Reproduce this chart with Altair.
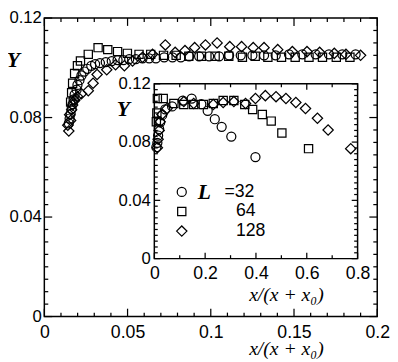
import altair as alt
import pandas as pd

# ---------------- data ----------------
series = ["32", "64", "128"]
shapes = ["circle", "square", "diamond"]
marker_area = [85, 70, 110]

# main panel
main_x_32 = [0.0147, 0.0152, 0.0158, 0.0164, 0.0170, 0.0176, 0.0182, 0.0194, 0.0199, 0.0211,
             0.0223, 0.0240, 0.0258, 0.0282, 0.0305, 0.0334, 0.0369, 0.0405, 0.0440, 0.0475,
             0.0510, 0.0550, 0.0590, 0.0630, 0.0670, 0.0720, 0.0770, 0.0820, 0.0870, 0.0930,
             0.0990, 0.1050, 0.1110, 0.1180, 0.1250, 0.1320, 0.1390, 0.1470, 0.1550, 0.1630,
             0.1710, 0.1790, 0.1870]
main_y_32 = [0.0777, 0.0796, 0.0815, 0.0835, 0.0854, 0.0873, 0.0892, 0.0912, 0.0931, 0.0950,
             0.0969, 0.0985, 0.0996, 0.1008, 0.1015, 0.1019, 0.1023, 0.1027, 0.1031, 0.1031,
             0.1035, 0.1035, 0.1038, 0.1038, 0.1038, 0.1042, 0.1042, 0.1042, 0.1046, 0.1046,
             0.1046, 0.1046, 0.1050, 0.1050, 0.1050, 0.1050, 0.1050, 0.1054, 0.1054, 0.1054,
             0.1054, 0.1054, 0.1054]

main_x_64 = [0.0158, 0.0164, 0.0170, 0.0182, 0.0199, 0.0217, 0.0264, 0.0323, 0.0381, 0.0440,
             0.0499, 0.0569, 0.0639, 0.0716, 0.0792, 0.0868, 0.0944, 0.1026, 0.1108, 0.1190,
             0.1267, 0.1343, 0.1425, 0.1507, 0.1590, 0.1671, 0.1754, 0.1836]
main_y_64 = [0.0862, 0.0900, 0.0938, 0.0977, 0.1008, 0.1027, 0.1054, 0.1081, 0.1073, 0.1065,
             0.1058, 0.1054, 0.1054, 0.1050, 0.1050, 0.1046, 0.1046, 0.1046, 0.1046, 0.1042,
             0.1046, 0.1042, 0.1042, 0.1042, 0.1042, 0.1042, 0.1042, 0.1042]

main_x_128 = [0.0147, 0.0141, 0.0158, 0.0152, 0.0164, 0.0170, 0.0182, 0.0199, 0.0223, 0.0264,
              0.0293, 0.0317, 0.0375, 0.0428, 0.0481, 0.0530, 0.0590, 0.0650, 0.0727, 0.0786,
              0.0845, 0.0903, 0.0968, 0.1038, 0.1114, 0.1185, 0.1255, 0.1320, 0.1402, 0.1490,
              0.1578, 0.1654, 0.1742, 0.1812, 0.1900]
main_y_128 = [0.0746, 0.0769, 0.0788, 0.0811, 0.0831, 0.0850, 0.0869, 0.0885, 0.0896, 0.0908,
              0.0938, 0.0973, 0.0992, 0.1012, 0.1008, 0.1027, 0.1042, 0.1054, 0.1092, 0.1062,
              0.1069, 0.1081, 0.1092, 0.1100, 0.1085, 0.1085, 0.1081, 0.1081, 0.1073, 0.1065,
              0.1065, 0.1062, 0.1058, 0.1054, 0.1050]

# inset panel
inset_x_32 = [0.008, 0.012, 0.015, 0.019, 0.023, 0.031, 0.043, 0.070, 0.112, 0.147,
              0.185, 0.210, 0.238, 0.265, 0.303, 0.398]
inset_y_32 = [0.0765, 0.0795, 0.0845, 0.0890, 0.0935, 0.0985, 0.1025, 0.1045, 0.1085, 0.1099,
              0.1060, 0.1015, 0.0957, 0.0905, 0.0838, 0.0697]

inset_x_64 = [0.008, 0.010, 0.012, 0.035, 0.077, 0.116, 0.155, 0.193, 0.232, 0.271,
              0.313, 0.356, 0.387, 0.425, 0.460, 0.502, 0.607]
inset_y_64 = [0.0940, 0.1000, 0.1099, 0.1099, 0.1065, 0.1058, 0.1058, 0.1058, 0.1065, 0.1085,
              0.1085, 0.1058, 0.1024, 0.0990, 0.0944, 0.0863, 0.0755]

inset_x_128 = [0.012, 0.015, 0.019, 0.023, 0.030, 0.050, 0.116, 0.155, 0.232, 0.271,
               0.313, 0.359, 0.398, 0.437, 0.479, 0.518, 0.557, 0.595, 0.642, 0.684, 0.773]
inset_y_128 = [0.0762, 0.0820, 0.0880, 0.0940, 0.0990, 0.1030, 0.1078, 0.1065, 0.1058, 0.1072,
               0.1078, 0.1065, 0.1099, 0.1119, 0.1112, 0.1099, 0.1072, 0.1031, 0.0964, 0.0883,
               0.0755]

# axis ticks
main_x_major = [0, 0.05, 0.1, 0.15, 0.2]
main_x_minor = [0.01, 0.02, 0.03, 0.04, 0.06, 0.07, 0.08, 0.09, 0.11, 0.12, 0.13, 0.14,
                0.16, 0.17, 0.18, 0.19]
main_y_major = [0, 0.04, 0.08, 0.12]
main_y_minor = [0.005, 0.01, 0.015, 0.02, 0.025, 0.03, 0.035, 0.045, 0.05, 0.055, 0.06,
                0.065, 0.07, 0.075, 0.085, 0.09, 0.095, 0.1, 0.105, 0.11, 0.115]
inset_x_major = [0, 0.2, 0.4, 0.6, 0.8]
inset_x_minor = [0.1, 0.3, 0.5, 0.7]
inset_y_major = [0, 0.04, 0.08, 0.12]
inset_y_minor = [0.004, 0.008, 0.012, 0.016, 0.02, 0.024, 0.028, 0.032, 0.036, 0.044, 0.048,
                 0.052, 0.056, 0.06, 0.064, 0.068, 0.072, 0.076, 0.084, 0.088, 0.092, 0.096,
                 0.1, 0.104, 0.108, 0.112, 0.116]

legend_text = ["=32", "64", "128"]

# ---------------- layout ----------------
W, H = 339, 304
INSET_PX = (207, 178)
SANS = "Liberation Sans"
SERIF = "Liberation Serif"


def long_rows(xs, ys):
    rows = []
    for s, area, x, y in zip(series, marker_area, xs, ys):
        for a, b in zip(x, y):
            rows.append({"x": a, "y": b, "L": s, "s": area, "a": 0})
    return rows


def tick_rows(xmaj, xmin, ymaj, ymin, xd, yd, wpx, hpx, big, small):
    """Inward edge ticks, drawn as 'stroke' symbols through the same scales."""
    pxx = (xd[1] - xd[0]) / wpx
    pxy = (yd[1] - yd[0]) / hpx
    rows = []
    for vals, ln in ((xmaj, big), (xmin, small)):
        for v in vals:
            rows.append({"x": v, "y": yd[0] + pxy * ln / 2, "L": "tick", "s": ln * ln, "a": 90})
            rows.append({"x": v, "y": yd[1] - pxy * ln / 2, "L": "tick", "s": ln * ln, "a": 90})
    for vals, ln in ((ymaj, big), (ymin, small)):
        for v in vals:
            rows.append({"x": xd[0] + pxx * ln / 2, "y": v, "L": "tick", "s": ln * ln, "a": 0})
            rows.append({"x": xd[1] - pxx * ln / 2, "y": v, "L": "tick", "s": ln * ln, "a": 0})
    return rows


main_df = pd.DataFrame(
    long_rows([main_x_32, main_x_64, main_x_128], [main_y_32, main_y_64, main_y_128])
    + tick_rows(main_x_major, main_x_minor, main_y_major, main_y_minor,
                (0, 0.2), (0, 0.12), W, H, 8, 4))
inset_df = pd.DataFrame(
    long_rows([inset_x_32, inset_x_64, inset_x_128], [inset_y_32, inset_y_64, inset_y_128])
    + tick_rows(inset_x_major, inset_x_minor, inset_y_major, inset_y_minor,
                (0, 0.8), (0, 0.12), INSET_PX[0], INSET_PX[1], 6, 3.5))

xs_main = alt.Scale(domain=[0, 0.2], nice=False, zero=False)
ys_main = alt.Scale(domain=[0, 0.12], nice=False, zero=False)
xs_in = alt.Scale(domain=[0, 0.8], range=[112, 319], nice=False, zero=False)
ys_in = alt.Scale(domain=[0, 0.12], range=[245, 67], nice=False, zero=False)

labx = dict(labelFont=SANS, labelFontSize=18, labelColor="black", labelFlush=False,
            labelOverlap=False, ticks=False, domain=False, grid=False, format=".2~g")
laby = dict(labx, labelFontSize=17)

ax_main_x = alt.Axis(values=main_x_major, orient="bottom", labelPadding=7,
                     title="x/(x + x₀)", titleFont=SERIF, titleFontStyle="italic",
                     titleFontWeight="normal", titleFontSize=20, titleColor="black",
                     titleX=246, titleY=33, titleAlign="center", titleBaseline="middle", **labx)
ax_main_y = alt.Axis(values=main_y_major, orient="left", labelPadding=3,
                     title="Y", titleAngle=0, titleFont=SERIF, titleFontStyle="italic",
                     titleFontWeight="bold", titleFontSize=22, titleColor="black",
                     titleX=-32, titleY=42, titleAlign="center", titleBaseline="middle", **laby)
ax_in_x = alt.Axis(values=inset_x_major, orient="bottom", offset=-59, labelPadding=6,
                   title="x/(x + x₀)", titleFont=SERIF, titleFontStyle="italic",
                   titleFontWeight="normal", titleFontSize=20, titleColor="black",
                   titleX=246, titleY=37, titleAlign="center", titleBaseline="middle", **labx)
ax_in_y = alt.Axis(values=inset_y_major, orient="left", offset=-112, labelPadding=4,
                   title="Y", titleAngle=0, titleFont=SERIF, titleFontStyle="italic",
                   titleFontWeight="bold", titleFontSize=22, titleColor="black",
                   titleX=-32, titleY=92, titleAlign="center", titleBaseline="middle", **laby)

shape_enc = alt.Shape("L:N", scale=alt.Scale(domain=series + ["tick"], range=shapes + ["stroke"]),
                      legend=None)
size_enc = alt.Size("s:Q", scale=None, legend=None)
angle_enc = alt.Angle("a:Q", scale=None, legend=None)


def points(df, xs, ys, axx, axy):
    return alt.Chart(df).mark_point(filled=False, color="black", strokeWidth=1.25, opacity=1).encode(
        x=alt.X("x:Q", scale=xs, axis=axx),
        y=alt.Y("y:Q", scale=ys, axis=axy),
        shape=shape_enc, size=size_enc, angle=angle_enc)


main = points(main_df, xs_main, ys_main, ax_main_x, ax_main_y)

frame = alt.Chart(pd.DataFrame({"a": [0]})).mark_rect(
    fill="white", stroke="black", strokeWidth=1.5).encode(
    x=alt.XDatum(0, type="quantitative", scale=xs_in, axis=ax_in_x),
    x2=alt.X2Datum(0.8),
    y=alt.YDatum(0, type="quantitative", scale=ys_in, axis=ax_in_y),
    y2=alt.Y2Datum(0.12))

leg_df = pd.DataFrame({"L": series, "x": [0.108] * 3, "y": [0.0458, 0.0324, 0.0189],
                       "s": marker_area, "a": [0, 0, 0],
                       "t": legend_text, "tx": [0.276, 0.321, 0.321]})
leg_pts = points(leg_df, xs_in, ys_in, ax_in_x, ax_in_y)
leg_txt = alt.Chart(leg_df).mark_text(font=SANS, fontSize=18, align="left", baseline="middle",
                                      color="black").encode(
    x=alt.X("tx:Q", scale=xs_in, axis=ax_in_x),
    y=alt.Y("y:Q", scale=ys_in, axis=ax_in_y),
    text="t:N")
leg_L = alt.Chart(pd.DataFrame({"a": [0]})).mark_text(
    text="L", font=SERIF, fontSize=22, fontStyle="italic", fontWeight="bold",
    align="center", baseline="middle", color="black").encode(
    x=alt.XDatum(0.197, type="quantitative", scale=xs_in, axis=ax_in_x),
    y=alt.YDatum(0.0458, type="quantitative", scale=ys_in, axis=ax_in_y))

inset = alt.layer(
    frame,
    points(inset_df, xs_in, ys_in, ax_in_x, ax_in_y),
    leg_pts, leg_txt, leg_L,
)

chart = alt.layer(main, inset).resolve_scale(
    x="independent", y="independent").resolve_axis(
    x="independent", y="independent").properties(
    width=W, height=H,
    padding={"left": 37, "top": 7, "right": 13, "bottom": 40},
    autosize=alt.AutoSizeParams(type="none"),
    background="white",
).configure_view(stroke="black", strokeWidth=1.5)

chart.save("out.html", embed_options={"renderer": "svg", "actions": False})
